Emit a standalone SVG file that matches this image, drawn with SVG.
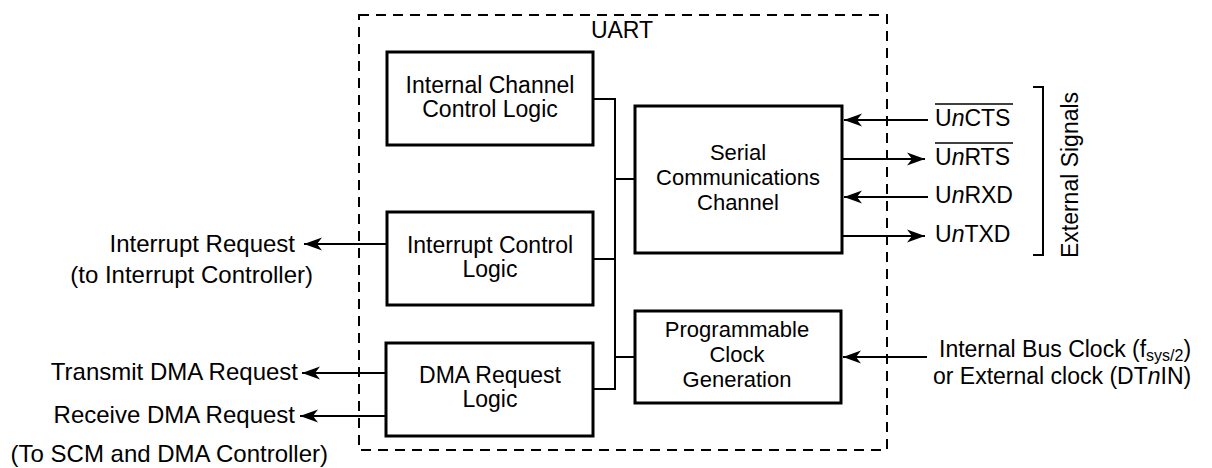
<svg xmlns="http://www.w3.org/2000/svg" width="1212" height="468" viewBox="0 0 1212 468">
<style>
text{font-family:"Liberation Sans",Arial,Helvetica,sans-serif;font-size:23px;fill:#000}
.box{fill:#fff;stroke:#000;stroke-width:3}
.c{text-anchor:middle}
.t{font-size:22px}
.e{text-anchor:end;font-size:24px}
.w{fill:none;stroke:#000;stroke-width:2}
.it{font-style:italic}
</style>
<defs>
<marker id="ah" markerUnits="userSpaceOnUse" markerWidth="20" markerHeight="14" viewBox="-18 -7 19 14" refX="0" refY="0" orient="auto">
<path d="M0,0 L-18,-6.5 L-13,0 L-18,6.5 Z" fill="#000"/>
</marker>
</defs>
<rect width="1212" height="468" fill="#fff"/>
<g id="uart-boundary">
<rect x="359" y="15" width="528" height="435" fill="none" stroke="#000" stroke-width="2" stroke-dasharray="10 7"/>
<text x="622" y="38" class="c">UART</text>
</g>
<g id="connectors">
<polyline class="w" points="593,99 615,99 615,389 593,389"/>
<line class="w" x1="615" y1="179" x2="635" y2="179"/>
<line class="w" x1="593" y1="259" x2="615" y2="259"/>
<line class="w" x1="615" y1="357" x2="635" y2="357"/>
<line class="w" x1="928" y1="120" x2="844" y2="120" marker-end="url(#ah)"/>
<line class="w" x1="842" y1="159" x2="925" y2="159" marker-end="url(#ah)"/>
<line class="w" x1="928" y1="197" x2="844" y2="197" marker-end="url(#ah)"/>
<line class="w" x1="842" y1="236" x2="925" y2="236" marker-end="url(#ah)"/>
<line class="w" x1="386" y1="244" x2="304" y2="244" marker-end="url(#ah)"/>
<line class="w" x1="386" y1="373" x2="302" y2="373" marker-end="url(#ah)"/>
<line class="w" x1="386" y1="416" x2="300" y2="416" marker-end="url(#ah)"/>
<line class="w" x1="927" y1="357" x2="843" y2="357" marker-end="url(#ah)"/>
<polyline class="w" points="1033,87 1043,87 1043,255 1033,255"/>
</g>
<g id="internal-channel-control-logic">
<rect class="box" x="387" y="52" width="206" height="93"/>
<text class="c"><tspan x="490" y="93">Internal Channel</tspan><tspan x="490" y="117">Control Logic</tspan></text>
</g>
<g id="serial-communications-channel">
<rect class="box" x="635" y="106" width="207" height="147"/>
<text class="c t"><tspan x="738" y="160">Serial</tspan><tspan x="738" y="185">Communications</tspan><tspan x="738" y="210">Channel</tspan></text>
</g>
<g id="interrupt-control-logic">
<rect class="box" x="387" y="212" width="206" height="93"/>
<text class="c"><tspan x="490" y="253">Interrupt Control</tspan><tspan x="490" y="277">Logic</tspan></text>
</g>
<g id="dma-request-logic">
<rect class="box" x="386" y="343" width="207" height="93"/>
<text class="c"><tspan x="490" y="383">DMA Request</tspan><tspan x="490" y="407">Logic</tspan></text>
</g>
<g id="programmable-clock-generation">
<rect class="box" x="635" y="311" width="206" height="92"/>
<text class="c t"><tspan x="737" y="337">Programmable</tspan><tspan x="737" y="362">Clock</tspan><tspan x="737" y="387">Generation</tspan></text>
</g>
<g id="external-signals">
<text x="935" y="126">U<tspan class="it">n</tspan>CTS</text>
<line x1="935" y1="104" x2="1013" y2="104" stroke="#000" stroke-width="1.6"/>
<text x="935" y="165">U<tspan class="it">n</tspan>RTS</text>
<line x1="935" y1="143" x2="1013" y2="143" stroke="#000" stroke-width="1.6"/>
<text x="935" y="203">U<tspan class="it">n</tspan>RXD</text>
<text x="935" y="242">U<tspan class="it">n</tspan>TXD</text>
<text transform="translate(1078,175) rotate(-90)" class="c">External Signals</text>
</g>
<g id="left-labels">
<text x="295" y="252" class="e">Interrupt Request</text>
<text x="313" y="283" class="e">(to Interrupt Controller)</text>
<text x="298" y="380" class="e">Transmit DMA Request</text>
<text x="295" y="423" class="e">Receive DMA Request</text>
<text x="328" y="462" class="e">(To SCM and DMA Controller)</text>
</g>
<g id="clock-labels">
<text font-size="24"><tspan x="939" y="357">Internal Bus Clock (f</tspan><tspan font-size="16" dy="4">sys/2</tspan><tspan dy="-4">)</tspan><tspan x="933" y="384">or External clock (DT</tspan><tspan class="it">n</tspan><tspan>IN)</tspan></text>
</g>
</svg>
